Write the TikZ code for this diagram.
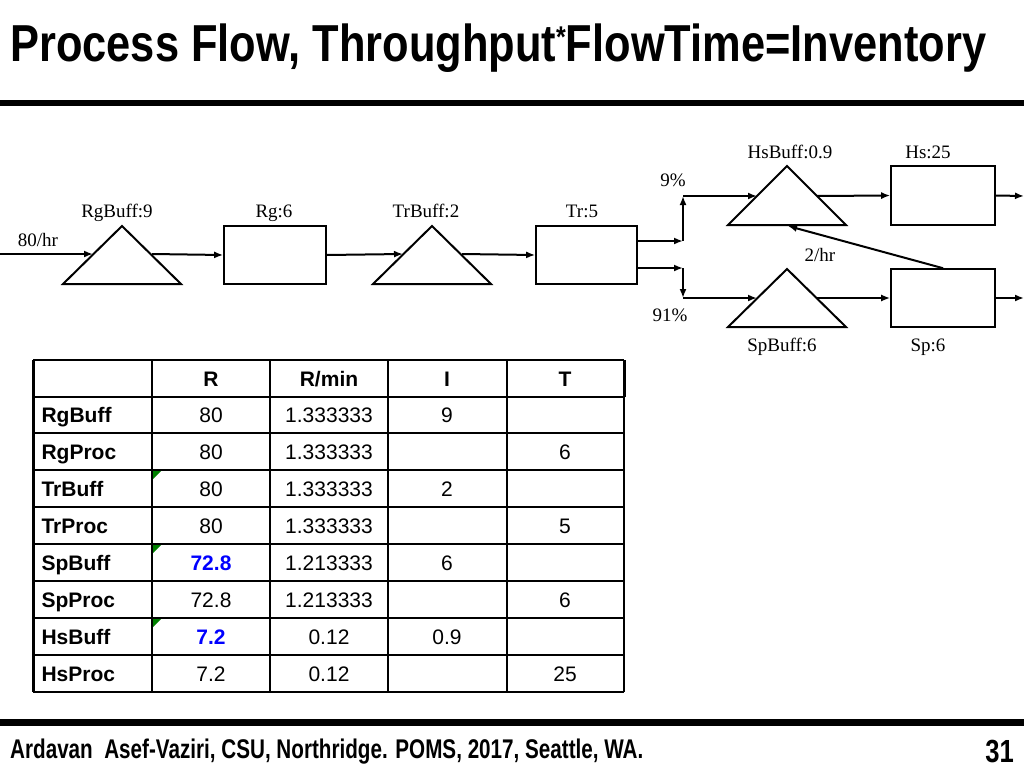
\documentclass[tikz,border=0pt]{standalone}
\usepackage{fontspec}
\setmainfont{Liberation Serif}
\newfontfamily\tabfont{Liberation Sans}
\usetikzlibrary{arrows.meta}
\begin{document}
\begin{tikzpicture}[x=1pt,y=-1pt,
  flow/.style={line width=2pt,-{Latex[length=9pt,width=7pt]}},
  tri/.style={line width=2pt},
  box/.style={draw,line width=1.6pt},
  lab/.style={font=\fontsize{19}{19}\selectfont,anchor=base},
  cell/.style={font=\tabfont\fontsize{21}{21}\selectfont,anchor=base},
  hcell/.style={font=\tabfont\bfseries\fontsize{21}{21}\selectfont,anchor=base},
  rowlab/.style={font=\tabfont\bfseries\fontsize{21}{21}\selectfont,anchor=base west}]
\useasboundingbox (0,0) rectangle (1024,768);
\fill[white] (0,0) rectangle (1024,768);
% title
\node[anchor=west,inner sep=0] (title) at (10,48) {\tabfont\bfseries\scalebox{0.835}[1]{\fontsize{52}{52}\selectfont Process Flow, Throughput\raisebox{14pt}{\fontsize{30}{30}\selectfont *}FlowTime=Inventory}};
\fill (0,100) rectangle (1024,106);
\fill (0,719) rectangle (1024,726);
\node[anchor=west,inner sep=0] (foot) at (10,752) {\tabfont\bfseries\scalebox{0.765}[1]{\fontsize{27}{27}\selectfont Ardavan\ \ Asef-Vaziri, CSU, Northridge. POMS, 2017, Seattle, WA.}};
\node[anchor=east,inner sep=0] (pg) at (1014,751) {\tabfont\bfseries\scalebox{0.8}[1]{\fontsize{32}{32}\selectfont 31}};
% diagram
\draw[tri] (63,284) -- (122,226) -- (181,284) -- cycle;
\draw[tri] (373,284) -- (432,226) -- (491,284) -- cycle;
\draw[tri] (728,225) -- (787,166) -- (846,225) -- cycle;
\draw[tri] (728,327) -- (787,269) -- (846,327) -- cycle;
\node[box,minimum width=102pt,minimum height=58pt] (rg) at (275,255) {};
\node[box,minimum width=101pt,minimum height=58pt] (tr) at (586.5,255) {};
\node[box,minimum width=104pt,minimum height=59pt] (hs) at (943,195.5) {};
\node[box,minimum width=104pt,minimum height=58pt] (sp) at (943,298) {};
\coordinate (in) at (0,254);
\coordinate (rgb) at (93,254);
\coordinate (rgbo) at (152,254);
\coordinate (trb) at (403,254);
\coordinate (trbo) at (462,254);
\coordinate (up1) at (683,241);
\coordinate (up2) at (683,196);
\coordinate (dn1) at (683,268);
\coordinate (dn2) at (683,298);
\coordinate (hsb) at (757,196);
\coordinate (hsbo) at (817,196);
\coordinate (spb) at (757,298);
\coordinate (spbo) at (817,298);
\coordinate (hsout) at (1024,196);
\coordinate (spout) at (1024,298);
\coordinate (ret) at (788,226);
\draw[flow] (in) -- (rgb);
\draw[flow] (rgbo) -- (rg.west);
\draw[flow] (rg.east) -- (trb);
\draw[flow] (trbo) -- (tr.west);
\draw[flow] (tr.east|-up1) -- (up1);
\draw[flow] (up1) -- (up2);
\draw[flow] (up2) -- (hsb);
\draw[flow] (tr.east|-dn1) -- (dn1);
\draw[flow] (dn1) -- (dn2);
\draw[flow] (dn2) -- (spb);
\draw[flow] (hsbo) -- (hs.west);
\draw[flow] (spbo) -- (sp.west);
\draw[flow] (hs.east) -- (hsout);
\draw[flow] (sp.east) -- (spout);
\draw[flow] (sp.north) -- (ret);
\node[lab] (l1) at (117,217) {RgBuff:9};
\node[lab] (l2) at (274,217) {Rg:6};
\node[lab] (l3) at (426,217) {TrBuff:2};
\node[lab] (l4) at (582,217) {Tr:5};
\node[lab] (l5) at (38,246) {80/hr};
\node[lab] (l6) at (790,158) {HsBuff:0.9};
\node[lab] (l7) at (928,158) {Hs:25};
\node[lab] (l8) at (673,186) {9\%};
\node[lab] (l9) at (820,261) {2/hr};
\node[lab] (l10) at (670,321) {91\%};
\node[lab] (l11) at (782,351) {SpBuff:6};
\node[lab] (l12) at (928,351) {Sp:6};
% table
\foreach \y in {360,397,433,470,507,544,581,618,655,692} \draw[line width=1.8pt] (33,\y) -- (624,\y);
\foreach \x in {152,270,388,507} \draw[line width=1.8pt] (\x,360) -- (\x,692);
\draw[line width=3pt] (33,360) -- (33,692);
\draw[line width=3pt] (624,360) -- (624,397);
\draw[line width=1.8pt] (624,397) -- (624,692);
\foreach \y in {470,544,618} \fill[green!50!black] (153,\y+1) -- (161,\y+1) -- (153,\y+9) -- cycle;
\foreach \t [count=\i] in {R,R/min,I,T}
  \node[hcell] (h\i) at (93+118*\i,386) {\t};
\foreach \n/\a/\b/\c/\d [count=\j] in {RgBuff/80/1.333333/9/,RgProc/80/1.333333//6,TrBuff/80/1.333333/2/,TrProc/80/1.333333//5,SpBuff/{\textcolor{blue}{\bfseries 72.8}}/1.213333/6/,SpProc/72.8/1.213333//6,HsBuff/{\textcolor{blue}{\bfseries 7.2}}/0.12/0.9/,HsProc/7.2/0.12//25}{
  \node[rowlab] (r\j) at (38,386+36.9*\j) {\n};
  \node[cell] (a\j) at (211,386+36.9*\j) {\a};
  \node[cell] (b\j) at (329,386+36.9*\j) {\b};
  \node[cell] (c\j) at (447,386+36.9*\j) {\c};
  \node[cell] (d\j) at (565,386+36.9*\j) {\d};
}
\end{tikzpicture}
\end{document}
